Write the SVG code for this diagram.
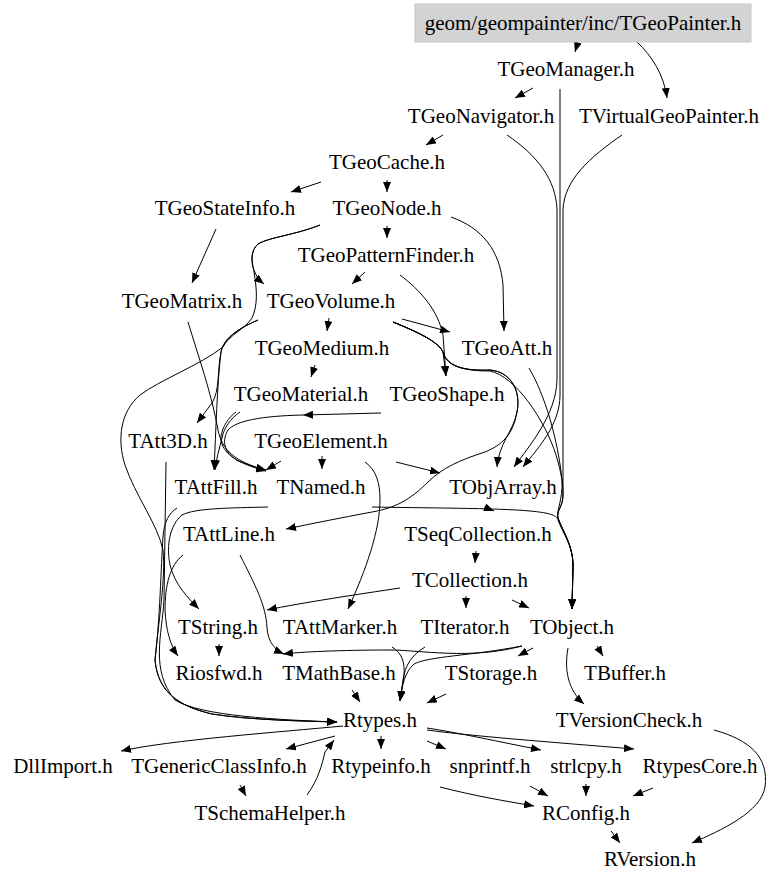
<svg xmlns="http://www.w3.org/2000/svg" width="768" height="885" viewBox="0 0 768 885">
<style>
text{font-family:"Liberation Serif","Times New Roman",serif;font-size:21px;fill:#000;text-anchor:middle}
.e path{fill:none;stroke:#000;stroke-width:1;marker-end:url(#a)}
.e path.n{marker-end:none}
</style>
<defs>
<marker id="a" markerWidth="10" markerHeight="8" refX="10" refY="4" orient="auto" markerUnits="userSpaceOnUse"><path d="M0,0 L10,4 L0,8 z" fill="#000"/></marker>
</defs>
<rect width="768" height="885" fill="#fff"/>
<g class="e" id="edges">
<path d="M578,42 L575,52"/>
<path d="M637,42 C652,56 664,75 667,98"/>
<path d="M533,88 L515,98"/>
<path d="M560,89 L560,395 C560,425 538,448 523,467"/>
<path d="M443,135 L426,145"/>
<path d="M507,135 C538,156 556,180 557,210 L557,380 C556,415 530,445 514,467"/>
<path d="M622,135 C590,157 564,180 563,210 L563,495 C563,507 556,511 558,518 C562,530 573,545 573,565 L572,609"/>
<path d="M321,182 L291,192"/>
<path d="M387,180 L387,192"/>
<path d="M216,229 L192,283"/>
<path d="M387,226 L387,238"/>
<path d="M451,217 C482,228 500,250 503,285 L504,331"/>
<path d="M320,225 C295,235 270,237 258,244 C250,251 251,263 254,270 C256,276 259,280 264,284"/>
<path d="M320,225 C295,235 270,237 258,244 C250,251 252,262 254,272 C257,290 258,305 252,318 C246,328 228,336 223,347 C200,365 160,380 140,395 C120,412 117,440 125,465 C135,495 158,525 163,550 C166,578 158,625 155,660 C158,692 178,706 212,714 C250,720 300,721 337,722"/>
<path d="M365,272 L352,284"/>
<path d="M400,275 C420,290 438,310 443,335 L446,376"/>
<path d="M329,318 L327,331"/>
<path d="M402,319 L450,332"/>
<path d="M393,322 C415,331 438,341 443,352 L446,376"/>
<path d="M393,322 C415,331 438,341 443,352 C447,367 465,371 490,370 C512,372 521,392 517,412 C513,432 499,443 497,467"/>
<path d="M393,322 C415,331 438,341 443,352 C447,367 465,371 490,370 C512,372 521,392 517,412 C513,435 502,445 485,452 C460,460 442,468 428,482 C410,500 395,508 372,512 C340,518 310,524 286,529"/>
<path d="M393,322 C415,331 438,341 443,352 C447,367 465,371 490,371 C515,376 545,420 556,455 C562,475 563,485 563,495 C563,507 556,511 558,518 C562,530 573,545 573,565 L572,609"/>
<path d="M529,368 C545,395 558,440 562,480 C563,500 556,511 558,518 C562,530 573,545 573,565 L572,609"/>
<path d="M258,320 C240,328 224,337 221,352 C217,372 220,390 212,403 L197,423"/>
<path d="M258,320 C240,328 224,337 221,352 C217,385 216,430 214,470"/>
<path d="M188,322 C198,355 212,395 218,430 C222,450 235,462 266,470"/>
<path d="M315,365 L311,377"/>
<path d="M381,413 L303,415"/>
<path d="M236,412 C228,418 223,426 221,436 C220,450 232,462 266,471"/>
<path d="M240,412 C230,419 224,428 222,438 C219,450 216,460 215,470"/>
<path class="n" d="M303,415 C260,416 236,421 228,430 C222,440 223,452 238,461 L266,471"/>
<path d="M281,461 L266,470"/>
<path d="M322,456 L322,469"/>
<path d="M396,462 L440,473"/>
<path d="M365,462 C376,470 380,482 380,500 C380,530 366,570 348,609"/>
<path d="M372,507 C420,508 500,508 530,511 C552,513 557,516 558,520 C562,532 573,545 573,565 L572,609"/>
<path d="M484,507 L494,511"/>
<path d="M476,551 L475,563"/>
<path d="M268,507 C230,508 195,508 182,515 C170,525 166,545 170,565 C175,585 188,598 199,609"/>
<path d="M177,508 C169,513 164,522 163,537 C161,565 160,620 155,660 C158,692 178,706 212,714 C250,720 300,721 337,722"/>
<path d="M166,462 L164,600 C162,635 150,670 175,700 C200,716 280,720 337,722"/>
<path d="M183,555 C170,565 165,585 165,610 C166,630 170,645 178,656"/>
<path d="M240,555 C255,585 266,605 267,628 C268,642 275,650 284,654"/>
<path d="M400,588 C360,594 300,603 267,610"/>
<path d="M466,596 L466,608"/>
<path d="M512,600 L529,608"/>
<path d="M219,644 L219,656"/>
<path d="M533,648 L518,656"/>
<path d="M597,646 L603,656"/>
<path d="M568,648 C564,670 568,690 584,704"/>
<path d="M522,646 C470,660 420,650 390,650 C340,650 300,652 283,654"/>
<path d="M522,646 C470,656 430,656 414,664 C405,672 402,685 400,701"/>
<path d="M425,647 C412,655 405,665 403,680 L400,701"/>
<path d="M392,647 C402,653 405,662 404,676 L400,701"/>
<path d="M352,690 L360,702"/>
<path d="M446,694 L427,703"/>
<path d="M343,726 C280,732 170,740 121,751"/>
<path d="M335,736 L286,749"/>
<path d="M307,795 C318,780 322,765 325,752 L334,740"/>
<path d="M381,736 L381,749"/>
<path d="M427,741 L446,749"/>
<path d="M427,728 C460,733 500,742 541,750"/>
<path d="M427,730 C470,736 550,742 634,749"/>
<path d="M240,785 L246,796"/>
<path d="M440,787 C475,796 505,801 534,806"/>
<path d="M530,786 L548,796"/>
<path d="M586,784 L586,796"/>
<path d="M653,788 L633,796"/>
<path d="M611,831 L620,843"/>
<path d="M714,730 C750,740 769,757 765,787 C761,812 722,830 692,843"/>
</g>
<g id="n_TGeoPainter"><rect x="415" y="4" width="336" height="38" fill="#d3d3d3" stroke="#c8c8c8"/><text x="583" y="30">geom/geompainter/inc/TGeoPainter.h</text></g>
<g id="n_TGeoManager"><text x="566" y="76">TGeoManager.h</text></g>
<g id="n_TGeoNavigator"><text x="481" y="123">TGeoNavigator.h</text></g>
<g id="n_TVirtualGeoPainter"><text x="669" y="123">TVirtualGeoPainter.h</text></g>
<g id="n_TGeoCache"><text x="387" y="169">TGeoCache.h</text></g>
<g id="n_TGeoStateInfo"><text x="225" y="215">TGeoStateInfo.h</text></g>
<g id="n_TGeoNode"><text x="387" y="215">TGeoNode.h</text></g>
<g id="n_TGeoPatternFinder"><text x="386" y="262">TGeoPatternFinder.h</text></g>
<g id="n_TGeoMatrix"><text x="182" y="308">TGeoMatrix.h</text></g>
<g id="n_TGeoVolume"><text x="331" y="308">TGeoVolume.h</text></g>
<g id="n_TGeoMedium"><text x="322" y="355">TGeoMedium.h</text></g>
<g id="n_TGeoAtt"><text x="507" y="355">TGeoAtt.h</text></g>
<g id="n_TGeoMaterial"><text x="301" y="401">TGeoMaterial.h</text></g>
<g id="n_TGeoShape"><text x="447" y="401">TGeoShape.h</text></g>
<g id="n_TAtt3D"><text x="168" y="448">TAtt3D.h</text></g>
<g id="n_TGeoElement"><text x="321" y="448">TGeoElement.h</text></g>
<g id="n_TAttFill"><text x="216" y="494">TAttFill.h</text></g>
<g id="n_TNamed"><text x="321" y="494">TNamed.h</text></g>
<g id="n_TObjArray"><text x="503" y="494">TObjArray.h</text></g>
<g id="n_TAttLine"><text x="229" y="541">TAttLine.h</text></g>
<g id="n_TSeqCollection"><text x="478" y="541">TSeqCollection.h</text></g>
<g id="n_TCollection"><text x="470" y="587">TCollection.h</text></g>
<g id="n_TString"><text x="218" y="634">TString.h</text></g>
<g id="n_TAttMarker"><text x="340" y="634">TAttMarker.h</text></g>
<g id="n_TIterator"><text x="465" y="634">TIterator.h</text></g>
<g id="n_TObject"><text x="572" y="634">TObject.h</text></g>
<g id="n_Riosfwd"><text x="219" y="680">Riosfwd.h</text></g>
<g id="n_TMathBase"><text x="339" y="680">TMathBase.h</text></g>
<g id="n_TStorage"><text x="491" y="680">TStorage.h</text></g>
<g id="n_TBuffer"><text x="625" y="680">TBuffer.h</text></g>
<g id="n_Rtypes"><text x="380" y="727">Rtypes.h</text></g>
<g id="n_TVersionCheck"><text x="629" y="727">TVersionCheck.h</text></g>
<g id="n_DllImport"><text x="63" y="773">DllImport.h</text></g>
<g id="n_TGenericClassInfo"><text x="219" y="773">TGenericClassInfo.h</text></g>
<g id="n_Rtypeinfo"><text x="381" y="773">Rtypeinfo.h</text></g>
<g id="n_snprintf"><text x="490" y="773">snprintf.h</text></g>
<g id="n_strlcpy"><text x="586" y="773">strlcpy.h</text></g>
<g id="n_RtypesCore"><text x="700" y="773">RtypesCore.h</text></g>
<g id="n_TSchemaHelper"><text x="270" y="820">TSchemaHelper.h</text></g>
<g id="n_RConfig"><text x="586" y="820">RConfig.h</text></g>
<g id="n_RVersion"><text x="650" y="866">RVersion.h</text></g>
</svg>
